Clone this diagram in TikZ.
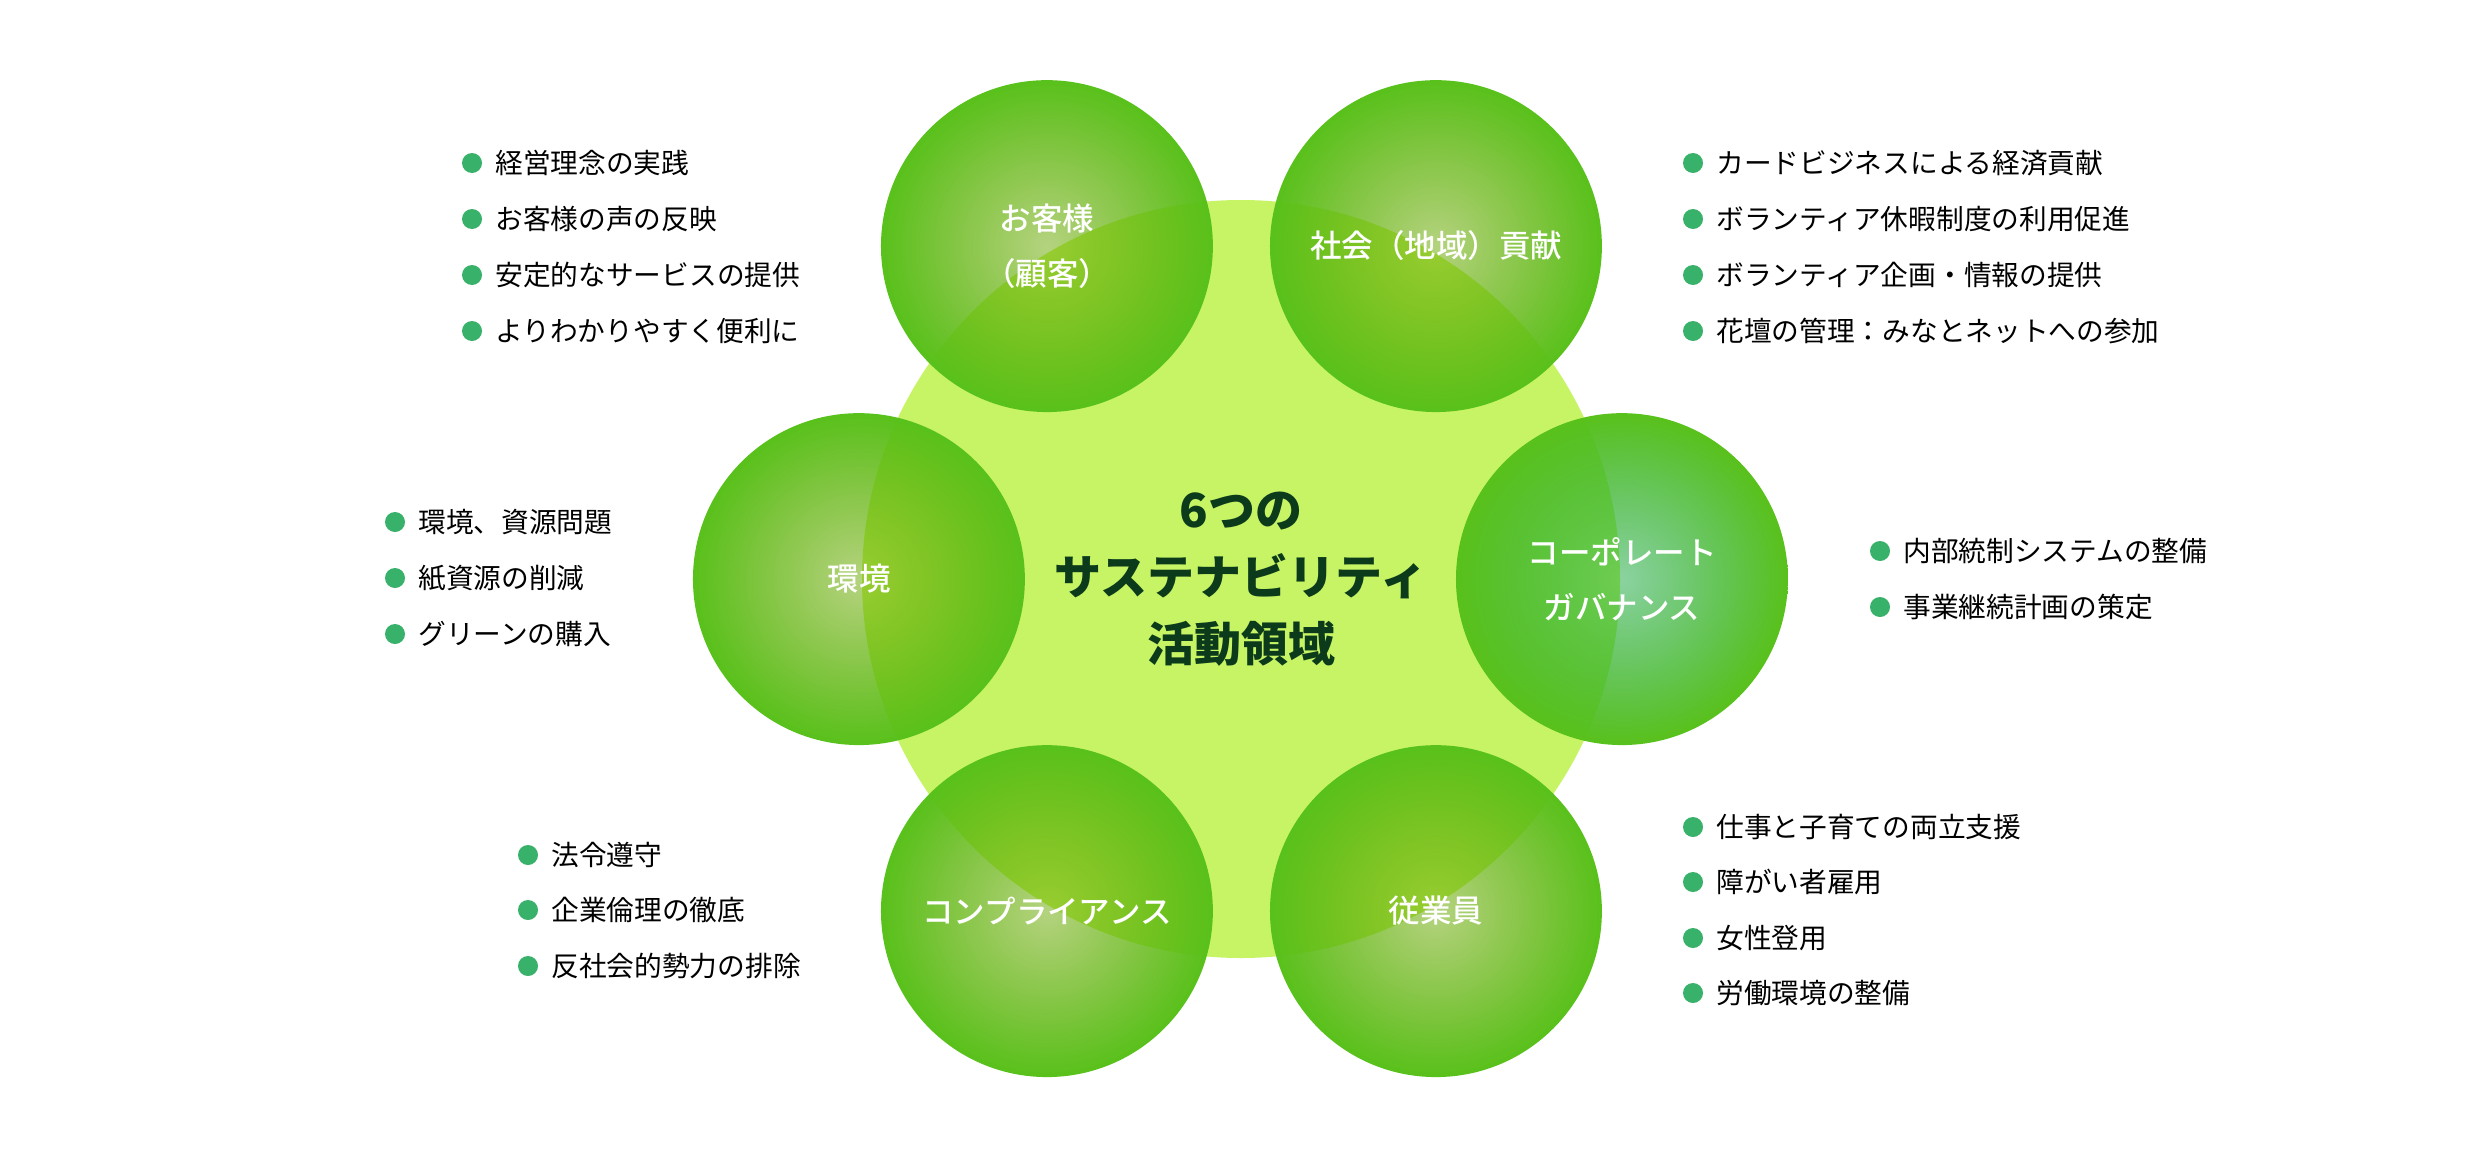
\documentclass[tikz,border=0pt]{standalone}
\usepackage{fontspec}
\setmainfont{Noto Sans CJK JP}
\newfontfamily\jpmedium[UprightFont={* Medium}]{Noto Sans CJK JP}
\usepackage{xcolor}
\usepackage{tikz}
\usetikzlibrary{backgrounds,fadings,positioning}

\definecolor{hubfill}{HTML}{C7F464}
\definecolor{ballgreen}{HTML}{59C11B}
\definecolor{balltint}{HTML}{6AA800}
\definecolor{govtint}{HTML}{19A741}
\definecolor{dotgreen}{HTML}{38B26A}
\definecolor{titlegreen}{HTML}{0B3B1B}

\tikzfading[name=ballfade, inner color=transparent!50, outer color=transparent!0]

\begin{document}
\begin{tikzpicture}[
  x=1pt, y=-1pt,
  hub/.style={
    circle,
    minimum size=758pt,
    inner sep=0pt,
    align=center,
    text=titlegreen,
    font=\fontsize{47}{67}\selectfont\bfseries
  },
  ball/.style={
    circle,
    minimum size=332pt,
    inner sep=0pt,
    align=center,
    text=white,
    font=\jpmedium\fontsize{31.5}{55}\selectfont
  },
  ball fill/.style={
    inner color=#1,
    outer color=ballgreen,
    path fading=ballfade
  },
  dot/.style={
    circle,
    fill=dotgreen,
    minimum size=20pt,
    inner sep=0pt
  },
  item/.style={
    inner sep=0pt,
    text height=24.4pt,
    text depth=3.3pt,
    font=\fontsize{27.7}{33}\selectfont
  }
]
\useasboundingbox (0,0) rectangle (2480,1156);

% 中央の円
\node[hub] (hub) at (1241,579)
  {6つの\\サステナビリティ\\活動領域};

% 6つの領域
\node[ball] (kyaku) at (1047,246) {お客様\\（顧客）};
\node[ball] (shakai) at (1436,246) {社会（地域）貢献};
\node[ball] (kankyo) at (859,579) {環境};
\node[ball] (gov) at (1622,579) {コーポレート\\ガバナンス};
\node[ball] (comp) at (1047,911) {コンプライアンス};
\node[ball] (jugyo) at (1436,911) {従業員};

\begin{scope}[on background layer]
  \fill[white] (0,0) rectangle (2480,1156);
  \fill[hubfill] (hub.center) circle[radius=379pt];
  \shade[ball fill=balltint] (kyaku.center) circle[radius=166pt];
  \shade[ball fill=balltint] (shakai.center) circle[radius=166pt];
  \shade[ball fill=balltint] (kankyo.center) circle[radius=166pt];
  \shade[ball fill=govtint] (gov.center) circle[radius=166pt];
  \shade[ball fill=balltint] (comp.center) circle[radius=166pt];
  \shade[ball fill=balltint] (jugyo.center) circle[radius=166pt];
\end{scope}

% お客様
\node[dot] (kyaku-d1) at (472,163) {};
\node[item, right=13pt of kyaku-d1] (kyaku-t1) {経営理念の実践};
\node[dot] (kyaku-d2) at (472,219) {};
\node[item, right=13pt of kyaku-d2] (kyaku-t2) {お客様の声の反映};
\node[dot] (kyaku-d3) at (472,275) {};
\node[item, right=13pt of kyaku-d3] (kyaku-t3) {安定的なサービスの提供};
\node[dot] (kyaku-d4) at (472,331) {};
\node[item, right=13pt of kyaku-d4] (kyaku-t4) {よりわかりやすく便利に};

% 社会（地域）貢献
\node[dot] (shakai-d1) at (1693,163) {};
\node[item, right=13pt of shakai-d1] (shakai-t1) {カードビジネスによる経済貢献};
\node[dot] (shakai-d2) at (1693,219) {};
\node[item, right=13pt of shakai-d2] (shakai-t2) {ボランティア休暇制度の利用促進};
\node[dot] (shakai-d3) at (1693,275) {};
\node[item, right=13pt of shakai-d3] (shakai-t3) {ボランティア企画・情報の提供};
\node[dot] (shakai-d4) at (1693,331) {};
\node[item, right=13pt of shakai-d4] (shakai-t4) {花壇の管理：みなとネットへの参加};

% 環境
\node[dot] (kankyo-d1) at (395,522) {};
\node[item, right=13pt of kankyo-d1] (kankyo-t1) {環境、資源問題};
\node[dot] (kankyo-d2) at (395,578) {};
\node[item, right=13pt of kankyo-d2] (kankyo-t2) {紙資源の削減};
\node[dot] (kankyo-d3) at (395,634) {};
\node[item, right=13pt of kankyo-d3] (kankyo-t3) {グリーンの購入};

% コーポレートガバナンス
\node[dot] (gov-d1) at (1880,551) {};
\node[item, right=13pt of gov-d1] (gov-t1) {内部統制システムの整備};
\node[dot] (gov-d2) at (1880,607) {};
\node[item, right=13pt of gov-d2] (gov-t2) {事業継続計画の策定};

% コンプライアンス
\node[dot] (comp-d1) at (528,855) {};
\node[item, right=13pt of comp-d1] (comp-t1) {法令遵守};
\node[dot] (comp-d2) at (528,910) {};
\node[item, right=13pt of comp-d2] (comp-t2) {企業倫理の徹底};
\node[dot] (comp-d3) at (528,966) {};
\node[item, right=13pt of comp-d3] (comp-t3) {反社会的勢力の排除};

% 従業員
\node[dot] (jugyo-d1) at (1693,827) {};
\node[item, right=13pt of jugyo-d1] (jugyo-t1) {仕事と子育ての両立支援};
\node[dot] (jugyo-d2) at (1693,882) {};
\node[item, right=13pt of jugyo-d2] (jugyo-t2) {障がい者雇用};
\node[dot] (jugyo-d3) at (1693,938) {};
\node[item, right=13pt of jugyo-d3] (jugyo-t3) {女性登用};
\node[dot] (jugyo-d4) at (1693,993) {};
\node[item, right=13pt of jugyo-d4] (jugyo-t4) {労働環境の整備};

\end{tikzpicture}
\end{document}
